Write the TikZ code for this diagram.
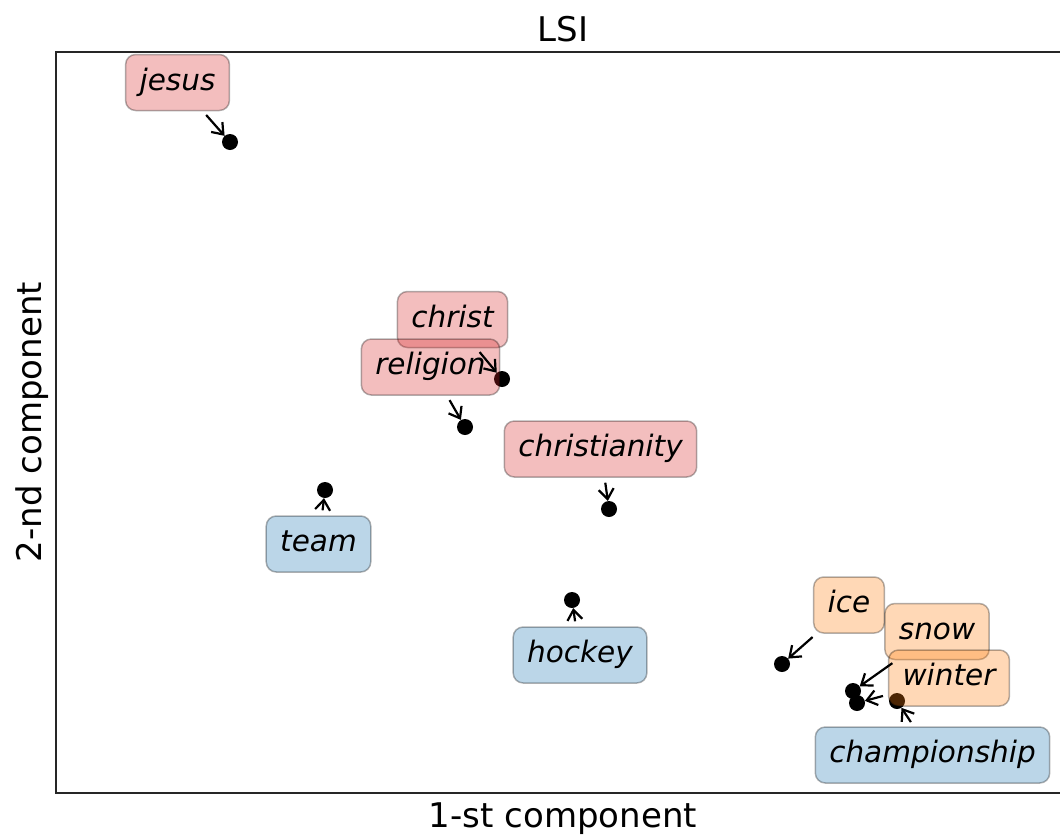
\documentclass[tikz,border=0pt]{standalone}
\usepackage{fontspec}
\setmainfont{DejaVu Sans}
\usetikzlibrary{arrows.meta}
\definecolor{tabred}{RGB}{214,39,40}
\definecolor{tabblue}{RGB}{31,119,180}
\definecolor{taborange}{RGB}{255,127,14}

\begin{document}
\begin{tikzpicture}[x=1pt, y=-1pt,
  every node/.style = {font=\fontsize{29.5}{34}\selectfont\itshape},
  word/.style = {draw=black, draw opacity=0.3, fill opacity=0.3, text opacity=1,
                 rounded corners=10pt, line width=1.5pt, inner xsep=14pt, inner ysep=13.5pt,
                 text height=22pt, text depth=7pt},
  religious/.style = {word, fill=tabred},
  sport/.style = {word, fill=tabblue},
  weather/.style = {word, fill=taborange},
  dot/.style = {circle, fill=black, inner sep=0pt, minimum size=16pt},
  pointer/.style = {-{Straight Barb[length=10pt,width=15pt]}, line width=2.2pt, shorten <=5pt},
  axislabel/.style = {font=\fontsize{34}{40}\selectfont, anchor=base},
  ]
  \useasboundingbox (0,0) rectangle (1060,836);

  % axes
  \draw[line width=2pt, black!85] (1062,52) -- (56,52) -- (56,793) -- (1062,793);
  \node[axislabel] (title) at (563,41) {LSI};
  \node[axislabel] (xlab) at (563,827) {1-st component};
  \node[axislabel, rotate=90] (ylab) at (41,422) {2-nd component};

  % points
  \node[dot] (d1jesus) at (230,142) {};
  \node[dot] (d2christ) at (502,379) {};
  \node[dot] (d3religion) at (465,427) {};
  \node[dot] (d4christianity) at (609,509) {};
  \node[dot] (d5team) at (325,490) {};
  \node[dot] (d6hockey) at (572,600) {};
  \node[dot] (d7ice) at (782,664) {};
  \node[dot] (d8snow) at (853,691) {};
  \node[dot] (d9winter) at (857,703) {};
  \node[dot] (d10championship) at (897,701) {};

  % labels
  \node[religious] (t1jesus) at (177.5,82.5) {jesus};
  \node[religious] (t2christ) at (452.5,319.5) {christ};
  \node[religious] (t3religion) at (430.5,367) {religion};
  \node[religious] (t4christianity) at (600.5,449) {christianity};
  \node[sport] (t5team) at (318.5,544) {team};
  \node[sport] (t6hockey) at (580,655) {hockey};
  \node[weather] (t7ice) at (849,605) {ice};
  \node[weather] (t8snow) at (937,631.5) {snow};
  \node[weather] (t9winter) at (949,678) {winter};
  \node[sport] (t10championship) at (932.5,755) {championship};

  % arrows
  \draw[pointer] (t1jesus) -- (d1jesus);
  \draw[pointer] (t2christ) -- (d2christ);
  \draw[pointer] (t3religion) -- (d3religion);
  \draw[pointer] (t4christianity) -- (d4christianity);
  \draw[pointer] (t5team) -- (d5team);
  \draw[pointer] (t6hockey) -- (d6hockey);
  \draw[pointer] (t7ice) -- (d7ice);
  \draw[pointer] (t8snow) -- (d8snow);
  \draw[pointer] (t9winter) -- (d9winter);
  \draw[pointer] (t10championship) -- (d10championship);
\end{tikzpicture}
\end{document}
